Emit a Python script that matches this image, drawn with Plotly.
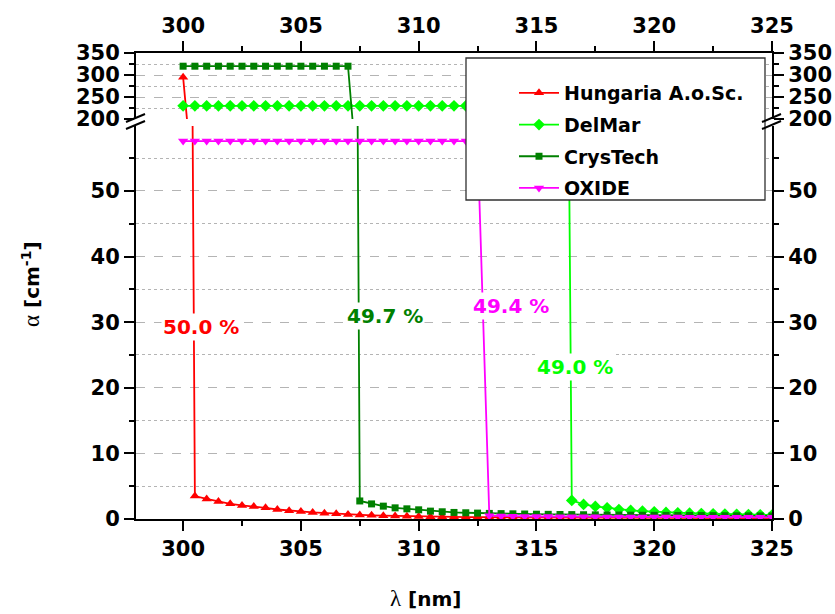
import plotly.graph_objects as go

# ---------------- data ----------------
wavelength = [300.0, 300.5, 301.0, 301.5, 302.0, 302.5, 303.0, 303.5, 304.0, 304.5,
              305.0, 305.5, 306.0, 306.5, 307.0, 307.5, 308.0, 308.5, 309.0, 309.5,
              310.0, 310.5, 311.0, 311.5, 312.0, 312.5, 313.0, 313.5, 314.0, 314.5,
              315.0, 315.5, 316.0, 316.5, 317.0, 317.5, 318.0, 318.5, 319.0, 319.5,
              320.0, 320.5, 321.0, 321.5, 322.0, 322.5, 323.0, 323.5, 324.0, 324.5,
              325.0]

hungaria = [295, 3.5, 3.05, 2.68, 2.32, 2.07, 1.91, 1.71, 1.45, 1.25,
            1.15, 1.0, 0.89, 0.79, 0.7, 0.62, 0.56, 0.5, 0.45, 0.41,
            0.38, 0.35, 0.33, 0.31, 0.29, 0.28, 0.27, 0.26, 0.25, 0.24,
            0.23, 0.225, 0.22, 0.21, 0.205, 0.2, 0.195, 0.19, 0.185, 0.18,
            0.175, 0.17, 0.165, 0.16, 0.157, 0.154, 0.15, 0.147, 0.144, 0.141,
            0.138]

delmar = [230, 230, 230, 230, 230, 230, 230, 230, 230, 230,
          230, 230, 230, 230, 230, 230, 230, 230, 230, 230,
          230, 230, 230, 230, 230, 230, 230, 230, 230, 230,
          230, 230, 230, 2.83, 2.22, 1.91, 1.71, 1.45, 1.3, 1.2,
          1.1, 1.0, 0.94, 0.89, 0.84, 0.79, 0.75, 0.71, 0.67, 0.64,
          0.61]

crystech = [320, 320, 320, 320, 320, 320, 320, 320, 320, 320,
            320, 320, 320, 320, 320, 2.75, 2.3, 1.96, 1.7, 1.55,
            1.4, 1.2, 1.1, 1.0, 0.95, 0.9, 0.85, 0.82, 0.79, 0.76,
            0.73, 0.71, 0.69, 0.67, 0.65, 0.63, 0.61, 0.6, 0.58, 0.57,
            0.56, 0.55, 0.54, 0.53, 0.52, 0.51, 0.5, 0.49, 0.48, 0.47,
            0.46]

oxide = [57.6, 57.6, 57.6, 57.6, 57.6, 57.6, 57.6, 57.6, 57.6, 57.6,
         57.6, 57.6, 57.6, 57.6, 57.6, 57.6, 57.6, 57.6, 57.6, 57.6,
         57.6, 57.6, 57.6, 57.6, 57.6, 57.6, 0.5, 0.45, 0.42, 0.4,
         0.38, 0.37, 0.36, 0.35, 0.34, 0.33, 0.32, 0.315, 0.31, 0.305,
         0.3, 0.295, 0.29, 0.285, 0.28, 0.275, 0.27, 0.265, 0.26, 0.255,
         0.25]

series_names = ["Hungaria A.o.Sc.", "DelMar", "CrysTech", "OXIDE"]
series_values = [hungaria, delmar, crystech, oxide]
series_colors = ["#ff0000", "#00ff00", "#008000", "#ff00ff"]
series_symbols = ["triangle-up", "diamond", "square", "triangle-down"]
series_msize = [9, 9, 7, 9]

label_texts = ["50.0 %", "49.7 %", "49.4 %", "49.0 %"]
label_colors = ["#ff0000", "#008000", "#ff00ff", "#00ff00"]
label_x = [300.75, 308.55, 313.9, 316.65]
label_y = [29.3, 30.9, 32.4, 23.2]

# ---------------- layout helpers ----------------
W, H = 835, 614
ML, MR, MT, MB = 136, 63, 53, 95
PW, PH = W - ML - MR, H - MT - MB


def px(X):
    return (X - ML) / PW


def py(Y):
    return (H - MB - Y) / PH


LOW_TOP = py(126)
UP_BOT = py(119)

TICKFONT = dict(family="DejaVu Sans", size=21, color="black", weight="bold")
GRID = "#b4b4b4"

fig = go.Figure()

for name, vals, col, sym, ms in zip(series_names, series_values, series_colors,
                                    series_symbols, series_msize):
    # lower panel
    fig.add_trace(go.Scatter(
        x=wavelength, y=vals, name=name, legendgroup=name, mode="lines+markers",
        line=dict(color=col, width=1.8),
        marker=dict(symbol=sym, size=ms, color=col),
        xaxis="x", yaxis="y", hoverinfo="x+y"))
    # upper panel
    fig.add_trace(go.Scatter(
        x=wavelength, y=vals, name=name, legendgroup=name, showlegend=False,
        mode="lines+markers",
        line=dict(color=col, width=1.8),
        marker=dict(symbol=sym, size=ms, color=col),
        xaxis="x2", yaxis="y2", hoverinfo="x+y"))

# dummy traces so the right-hand mirror axes get drawn
fig.add_trace(go.Scatter(x=[None], y=[None], xaxis="x", yaxis="y3",
                         showlegend=False, hoverinfo="skip"))
fig.add_trace(go.Scatter(x=[None], y=[None], xaxis="x2", yaxis="y4",
                         showlegend=False, hoverinfo="skip"))

common_x = dict(range=[298, 325], dtick=5, tick0=300, showline=True,
                linecolor="black", linewidth=2, ticks="outside", ticklen=10,
                tickwidth=2, tickcolor="black", showgrid=False, zeroline=False,
                tickfont=TICKFONT, automargin=False,
                minor=dict(dtick=2.5, tick0=300, ticks="outside", ticklen=5,
                           tickwidth=2, tickcolor="black", showgrid=False))

lower_y = dict(range=[0, 59.9], dtick=10, tick0=0, showline=True,
               linecolor="black", linewidth=2, ticks="outside", ticklen=10,
               tickwidth=2, tickcolor="black", zeroline=False, tickfont=TICKFONT,
               automargin=False)
upper_y = dict(range=[200, 350], dtick=50, tick0=200, showline=True,
               linecolor="black", linewidth=2, ticks="outside", ticklen=10,
               tickwidth=2, tickcolor="black", zeroline=False, tickfont=TICKFONT,
               automargin=False)

fig.update_layout(
    width=W, height=H,
    margin=dict(l=ML, r=MR, t=MT, b=MB, autoexpand=False),
    paper_bgcolor="white", plot_bgcolor="white",
    showlegend=True,
    xaxis=dict(common_x, domain=[0, 1], anchor="y", side="bottom"),
    xaxis2=dict(common_x, domain=[0, 1], anchor="y2", side="top", matches="x"),
    yaxis=dict(lower_y, domain=[0, LOW_TOP], anchor="x", side="left",
               showgrid=True, gridcolor=GRID, griddash="dash", gridwidth=1,
               minor=dict(dtick=5, tick0=0, ticks="outside", ticklen=5,
                          tickwidth=2, tickcolor="black", showgrid=True,
                          gridcolor=GRID, griddash="dot", gridwidth=1)),
    yaxis2=dict(upper_y, domain=[UP_BOT, 1], anchor="x2", side="left",
                showgrid=True, gridcolor=GRID, griddash="dash", gridwidth=1,
                minor=dict(dtick=25, tick0=200, ticks="outside", ticklen=5,
                           tickwidth=2, tickcolor="black", showgrid=True,
                           gridcolor=GRID, griddash="dot", gridwidth=1)),
    yaxis3=dict(lower_y, overlaying="y", anchor="x", side="right", showgrid=False,
                minor=dict(dtick=5, tick0=0, ticks="outside", ticklen=5,
                           tickwidth=2, tickcolor="black", showgrid=False)),
    yaxis4=dict(upper_y, overlaying="y2", anchor="x2", side="right", showgrid=False,
                minor=dict(dtick=25, tick0=200, ticks="outside", ticklen=5,
                           tickwidth=2, tickcolor="black", showgrid=False)),
    legend=dict(x=px(514), y=py(74), xanchor="left", yanchor="top",
                bgcolor="rgba(0,0,0,0)", borderwidth=0,
                font=dict(family="DejaVu Sans", size=19, color="black", weight="bold"),
                tracegroupgap=4, itemwidth=40),
)

# legend box
fig.add_shape(type="rect", xref="paper", yref="paper",
              x0=px(466), x1=px(765), y0=py(200), y1=py(58),
              line=dict(color="#303030", width=1.3), fillcolor="white", layer="above")

# axis break marks
for X0 in (126, 762):
    for dy in (0, 7):
        fig.add_shape(type="line", xref="paper", yref="paper",
                      x0=px(X0), y0=py(122 + dy), x1=px(X0 + 19), y1=py(114 + dy),
                      line=dict(color="black", width=2), layer="above")

# percentage labels
for t, lx, ly, col in zip(label_texts, label_x, label_y, label_colors):
    fig.add_annotation(x=lx, y=ly, xref="x", yref="y", text=t, showarrow=False,
                       xanchor="center", yanchor="middle",
                       font=dict(family="DejaVu Sans", size=20, color=col, weight="bold"),
                       bgcolor="white", borderpad=1)

# axis titles
fig.add_annotation(xref="paper", yref="paper", x=px(425), y=py(598),
                   xanchor="center", yanchor="middle",
                   text="<span style='font-family:Liberation Serif;font-weight:normal;font-size:23px'>λ</span> [nm]",
                   showarrow=False,
                   font=dict(family="DejaVu Sans", size=20, color="black", weight="bold"))
fig.add_annotation(xref="paper", yref="paper", x=px(31), y=py(284), textangle=-90,
                   xanchor="center", yanchor="middle",
                   text="<span style='font-family:Liberation Serif;font-weight:normal;font-size:23px'>α</span> [cm<sup>-1</sup>]",
                   showarrow=False,
                   font=dict(family="DejaVu Sans", size=20, color="black", weight="bold"))

fig.write_html("out.html",
               config={"displayModeBar": False},
               post_script="document.body.style.margin='0px';"
                           "document.body.style.overflow='hidden';")
